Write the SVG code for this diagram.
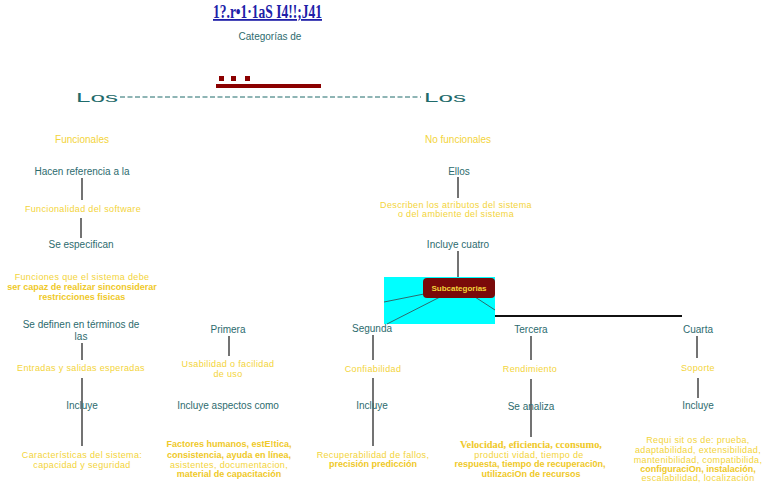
<svg xmlns="http://www.w3.org/2000/svg" width="768" height="487" viewBox="0 0 768 487">
<style>
.t{font-family:"Liberation Sans",Arial,sans-serif;font-size:10px;fill:#2d6b6e;text-anchor:middle}
.y{font-family:"Liberation Sans",Arial,sans-serif;font-size:9px;letter-spacing:0.35px;fill:#f3d43a;text-anchor:middle}
.yb{font-family:"Liberation Sans",Arial,sans-serif;font-size:9px;font-weight:bold;fill:#efc928;text-anchor:middle}
.ys{font-family:"Liberation Serif",serif;font-size:10.4px;font-weight:bold;fill:#efc928;text-anchor:middle}
.c{stroke:#444;stroke-width:1.5;fill:none}
.s{stroke:#2d6b6e;stroke-width:1;fill:none}
.los{font-family:"Liberation Sans",Arial,sans-serif;font-size:13px;fill:#1f6b6b}
</style>
<rect width="768" height="487" fill="#fff"/>
<g id="title">
<text x="213" y="18" font-family="Liberation Serif,serif" font-size="18" font-weight="bold" fill="#2020a8" text-decoration="underline" textLength="109" lengthAdjust="spacingAndGlyphs">1?.r•1·1aS I4!!;J41</text>
<text x="270" y="40" class="t">Categorías de</text>
<rect x="219" y="76" width="5" height="5" fill="#8b0000"/>
<rect x="231" y="76" width="5" height="5" fill="#8b0000"/>
<rect x="245" y="76" width="5" height="5" fill="#8b0000"/>
<rect x="216" y="84" width="105" height="4" fill="#8b0000"/>
</g>
<g id="los">
<text x="76" y="102" class="los" textLength="42" lengthAdjust="spacingAndGlyphs">Los</text>
<text x="424" y="102" class="los" textLength="42" lengthAdjust="spacingAndGlyphs">Los</text>
<line x1="120" y1="97" x2="421" y2="97" stroke="#1f6b6b" stroke-width="1" stroke-dasharray="5,2.5"/>
</g>
<g id="connectors">
<line class="c" x1="82" y1="178" x2="82" y2="200"/>
<line class="c" x1="81" y1="218" x2="81" y2="238"/>
<line class="c" x1="82" y1="343" x2="82" y2="360"/>
<line class="c" x1="82" y1="378" x2="82" y2="446"/>
<line class="c" x1="229" y1="336" x2="229" y2="356"/>
<line class="c" x1="458" y1="177" x2="458" y2="198"/>
<line class="c" x1="458" y1="251" x2="458" y2="278"/>
<line class="c" x1="373" y1="335" x2="373" y2="360"/>
<line class="c" x1="373" y1="378" x2="373" y2="446"/>
<line class="c" x1="531" y1="336" x2="531" y2="360"/>
<line class="c" x1="531" y1="379" x2="531" y2="437"/>
<line class="c" x1="697" y1="336" x2="697" y2="358"/>
<line class="c" x1="698" y1="378" x2="698" y2="398"/>
<line x1="495" y1="316" x2="682" y2="316" stroke="#111" stroke-width="2"/>
</g>
<g id="subcategorias">
<rect x="384" y="277" width="111" height="47" fill="#00ffff"/>
<line class="s" x1="424" y1="294" x2="384" y2="302"/>
<line class="s" x1="440" y1="297" x2="387" y2="324"/>
<line class="s" x1="475" y1="297" x2="495" y2="310"/>
<rect x="423" y="278" width="72" height="20" rx="4" fill="#7a0a0a"/>
<text x="459" y="291" font-family="Liberation Sans,Arial,sans-serif" font-size="8" font-weight="bold" fill="#f3d43a" text-anchor="middle">Subcategorias</text>
</g>
<g id="funcionales">
<text x="82" y="143" class="t" style="fill:#f3d43a">Funcionales</text>
<text x="82" y="175" class="t">Hacen referencia a la</text>
<text x="83" y="212" class="y">Funcionalidad del software</text>
<text x="81" y="248" class="t">Se especifican</text>
<text x="82" y="280" class="y">Funciones que el sistema debe</text>
<text x="82" y="290" class="yb">ser capaz de realizar sinconsiderar</text>
<text x="82" y="300" class="yb">restricciones fisicas</text>
<text x="81" y="328" class="t">Se definen en términos de</text>
<text x="81" y="340" class="t">las</text>
<text x="81" y="371" class="y">Entradas y salidas esperadas</text>
<text x="82" y="409" class="t">Incluye</text>
<text x="82" y="458" class="y">Características del sistema:</text>
<text x="82" y="468" class="y">capacidad y seguridad</text>
</g>
<g id="nofuncionales">
<text x="458" y="143" class="t" style="fill:#f3d43a">No funcionales</text>
<text x="459" y="175" class="t">Ellos</text>
<text x="456" y="208" class="y">Describen los atributos del sistema</text>
<text x="456" y="217" class="y">o del ambiente del sistema</text>
<text x="458" y="248" class="t">Incluye cuatro</text>
</g>
<g id="primera">
<text x="228" y="333" class="t">Primera</text>
<text x="228" y="367" class="y">Usabilidad o facilidad</text>
<text x="228" y="377" class="y">de uso</text>
<text x="228" y="409" class="t">Incluye aspectos como</text>
<text x="229" y="447" class="yb">Factores humanos, estE!tica,</text>
<text x="229" y="458" class="yb">consistencia, ayuda en línea,</text>
<text x="229" y="468" class="y">asistentes, documentacion,</text>
<text x="229" y="477" class="yb">material de capacitación</text>
</g>
<g id="segunda">
<text x="372" y="332" class="t">Segunda</text>
<text x="373" y="372" class="y">Confiabilidad</text>
<text x="372" y="409" class="t">Incluye</text>
<text x="373" y="458" class="y">Recuperabilidad de fallos,</text>
<text x="373" y="467" class="yb">precisión predicción</text>
</g>
<g id="tercera">
<text x="531" y="333" class="t">Tercera</text>
<text x="530" y="372" class="y">Rendimiento</text>
<text x="531" y="410" class="t">Se analiza</text>
<text x="531" y="448" class="ys">Velocidad, eficiencia, cconsumo,</text>
<text x="529" y="458" class="y">producti vidad, tiempo de</text>
<text x="530" y="467" class="yb">respuesta, tiempo de recuperaci0n,</text>
<text x="531" y="477" class="yb">utilizaciOn de recursos</text>
</g>
<g id="cuarta">
<text x="698" y="333" class="t">Cuarta</text>
<text x="698" y="371" class="y">Soporte</text>
<text x="698" y="409" class="t">Incluye</text>
<text x="698" y="443" class="y">Requi sit os de: prueba,</text>
<text x="698" y="453" class="y">adaptabilidad, extensibilidad,</text>
<text x="698" y="463" class="y">mantenibilidad, compatibilida,</text>
<text x="698" y="472" class="yb">configuraciOn, instalación,</text>
<text x="698" y="481" class="y">escalabilidad, localización</text>
</g>
</svg>
